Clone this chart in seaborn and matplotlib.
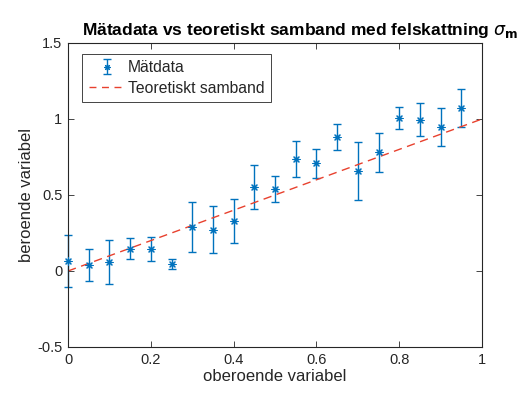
import numpy as np
import pandas as pd
import matplotlib
matplotlib.use('Agg')
import matplotlib.pyplot as plt
import seaborn as sns
from matplotlib.lines import Line2D

x_matt = [0.0, 0.05, 0.1, 0.15, 0.2, 0.25, 0.3, 0.35, 0.4, 0.45,
          0.5, 0.55, 0.6, 0.65, 0.7, 0.75, 0.8, 0.85, 0.9, 0.95]
y_matt = [0.066, 0.040, 0.060, 0.147, 0.145, 0.046, 0.290, 0.272, 0.328, 0.553,
          0.540, 0.737, 0.708, 0.880, 0.660, 0.780, 1.007, 0.995, 0.950, 1.074]
sigma = [0.173, 0.105, 0.145, 0.068, 0.080, 0.035, 0.163, 0.156, 0.143, 0.147,
         0.083, 0.120, 0.093, 0.085, 0.190, 0.128, 0.075, 0.108, 0.125, 0.125]

# theoretical relation y = x
x_teori = [0.0, 1.0]
y_teori = [0.0, 1.0]

matt = pd.DataFrame({'x': x_matt, 'y': y_matt, 's': sigma})
teori = pd.DataFrame({'x': x_teori, 'y': y_teori})

sns.set_style('white')
plt.rcParams['font.family'] = ['Liberation Sans', 'DejaVu Sans']
plt.rcParams['mathtext.fontset'] = 'dejavusans'

fig = plt.figure(figsize=(5.2, 4), dpi=100)
ax = fig.add_axes([0.1308, 0.1325, 0.7962, 0.76])

blue = '#0072BD'
red = '#E8412E'
eb = ax.errorbar(matt['x'], matt['y'], yerr=matt['s'], fmt='none',
                 ecolor=blue, elinewidth=1.0, capsize=3, capthick=1.0)
for part in eb.lines[1] + eb.lines[2]:
    part.set_clip_on(False)
sns.scatterplot(data=matt, x='x', y='y', ax=ax, marker=(8, 2, 0), color=blue,
                edgecolor=blue, linewidth=0.8, s=26, legend=False, zorder=3, clip_on=False)
sns.lineplot(data=teori, x='x', y='y', ax=ax, color=red, linestyle=(0, (6, 4)),
             linewidth=1.0, legend=False)

# legend handles
h_bar = ax.errorbar([np.nan], [np.nan], yerr=[np.nan], fmt='none', ecolor=blue,
                    elinewidth=1.0, capsize=3, capthick=1.0)
star = Line2D([], [], marker=(8, 2, 0), color=blue, linestyle='none',
              markersize=4.5, markeredgewidth=0.8)
h_line = Line2D([], [], color=red, linestyle=(0, (5, 4)), linewidth=1.0)

ax.set_xlim(0, 1)
ax.set_ylim(-0.5, 1.5)
ax.set_xticks([0, 0.2, 0.4, 0.6, 0.8, 1])
ax.set_xticklabels(['0', '0.2', '0.4', '0.6', '0.8', '1'])
ax.set_yticks([-0.5, 0, 0.5, 1, 1.5])
ax.set_yticklabels(['-0.5', '0', '0.5', '1', '1.5'])
ax.tick_params(direction='in', length=4, width=0.6, labelsize=10.5,
               colors='#262626', top=True, right=True, bottom=True, left=True, pad=4)
for sp in ax.spines.values():
    sp.set_color('#262626')
    sp.set_linewidth(0.8)

ax.set_xlabel('oberoende variabel', fontsize=12, color='#262626', labelpad=2)
ax.set_ylabel('beroende variabel', fontsize=12, color='#262626', labelpad=2)
ax.set_title(r'Mätadata vs teoretiskt samband med felskattning $\sigma_{\mathbf{m}}$',
             fontsize=12.5, fontweight='bold', color='black', pad=6, x=0.56)

leg = ax.legend([(h_bar, star), h_line], ['Mätdata', 'Teoretiskt samband'],
                loc='upper left', bbox_to_anchor=(0.027, 0.975), fontsize=11.3,
                frameon=True, fancybox=False, framealpha=1, edgecolor='#262626',
                handlelength=2.4, borderpad=0.4, labelspacing=0.35, handletextpad=0.1,
                borderaxespad=0.2)
for t in leg.get_texts():
    t.set_color('#262626')
leg.get_frame().set_linewidth(0.6)

fig.savefig('out.png', dpi=100)
